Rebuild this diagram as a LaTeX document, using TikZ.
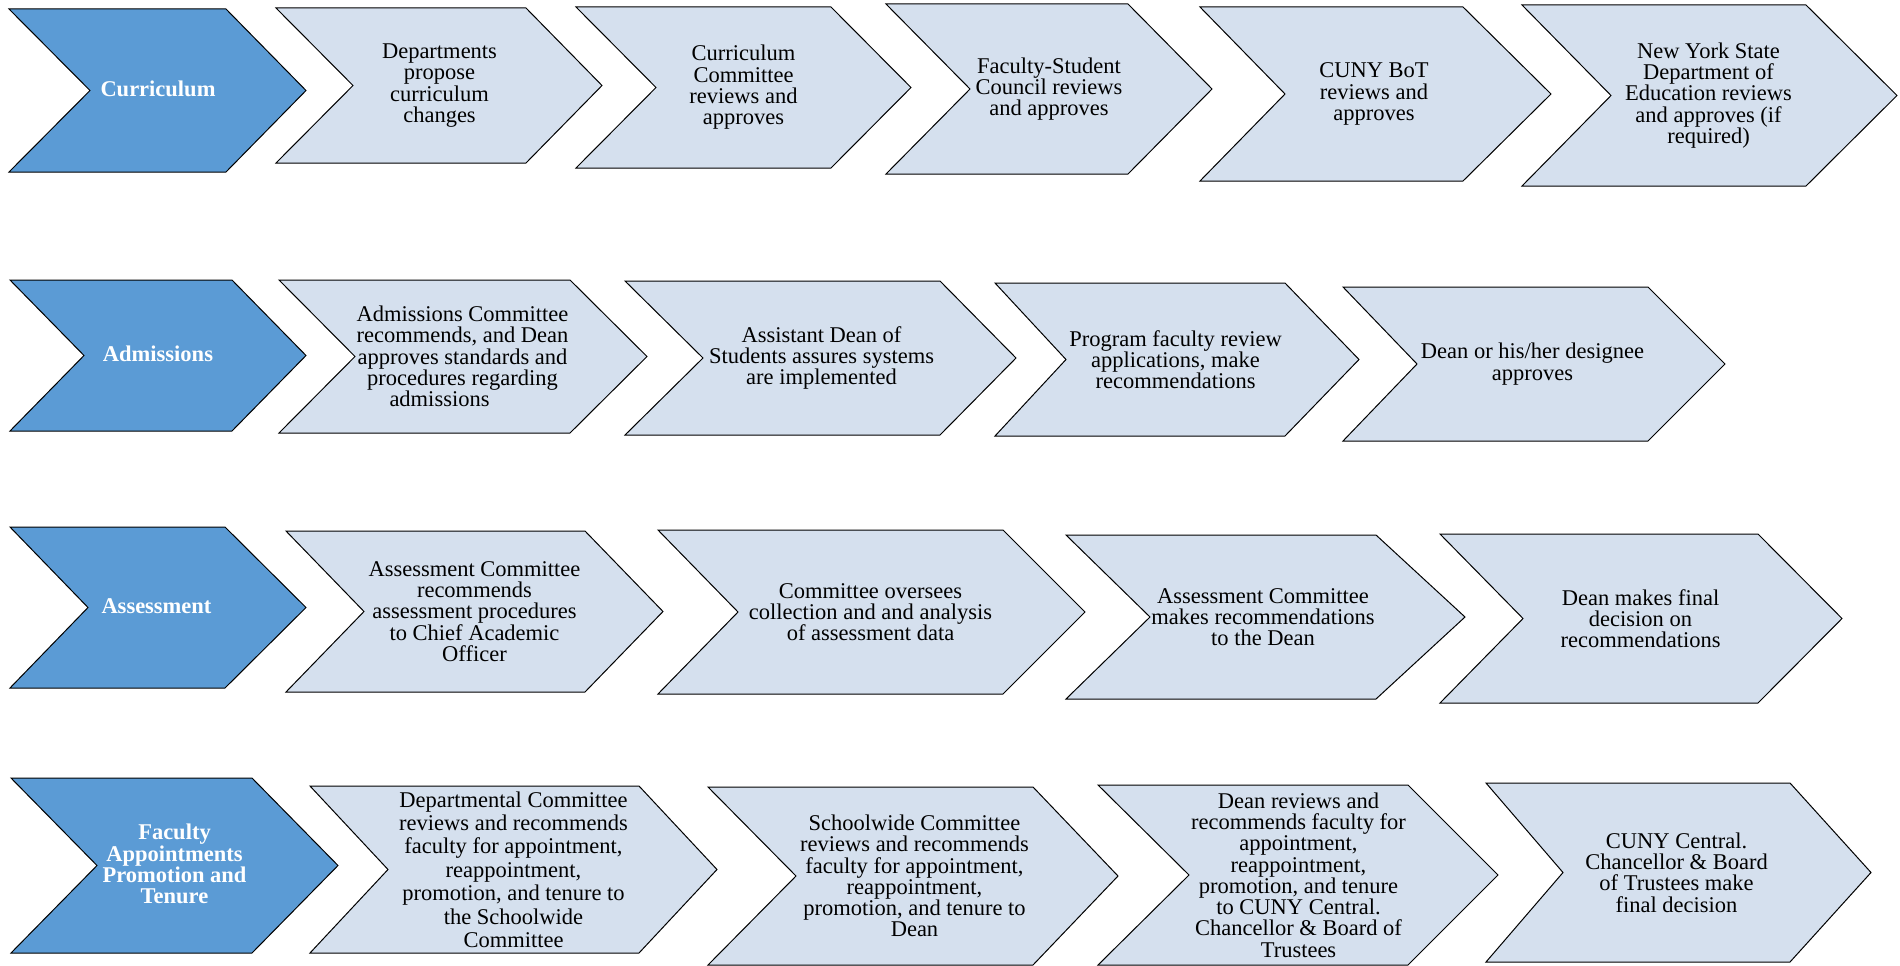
\documentclass[tikz,border=0pt]{standalone}
\usepackage{fontspec}
\setmainfont{Liberation Serif}
\definecolor{headblue}{HTML}{5B9BD5}
\definecolor{steplight}{HTML}{D5E0EE}
% one chevron: #1 name, #2 kind (head/step/stepwide), #3 left x, #4 top y, #5 bottom y,
% #6 notch x, #7 shoulder x, #8 tip x, #9 label
\newcommand{\chev}[9]{%
  \draw[chev#2] (#3,#4) -- (#7,#4) -- (#8,{(#4+#5)/2}) -- (#7,#5) -- (#3,#5)
    -- (#6,{(#4+#5)/2}) -- cycle;
  \node[#2text] (#1) at ({(#6+#7)/2},{(#4+#5)/2}) {#9};
}
\begin{document}
\begin{tikzpicture}[x=1pt,y=-1pt,
  chevhead/.style={fill=headblue, draw=black, line width=1pt},
  chevstep/.style={fill=steplight, draw=black, line width=1pt},
  chevstepwide/.style={chevstep},
  headtext/.style={text=white, font=\bfseries\fontsize{22.5}{21.3}\selectfont, align=center, inner sep=0pt, yshift=1.5pt},
  steptext/.style={text=black, font=\fontsize{22.5}{21.3}\selectfont, align=center, inner sep=0pt},
  stepwidetext/.style={steptext, font=\fontsize{22.5}{23.4}\selectfont}]
\useasboundingbox (0,0) rectangle (1900,966);

% Curriculum
\chev{c1}{head}{9}{9}{172}{90}{226}{306}{Curriculum}
\chev{c2}{step}{276}{8}{163}{353}{526}{602}{Departments\\propose\\curriculum\\changes}
\chev{c3}{step}{576}{7}{168}{656}{831}{911}{Curriculum\\Committee\\reviews and\\approves}
\chev{c4}{step}{886}{4}{174}{970}{1128}{1212}{Faculty-Student\\Council reviews\\and approves}
\chev{c5}{step}{1200}{7}{181}{1285}{1463}{1551}{CUNY BoT\\reviews and\\approves}
\chev{c6}{step}{1522}{5}{186}{1611}{1806}{1897}{New York State\\Department of\\Education reviews\\and approves (if\\required)}

% Admissions
\chev{a1}{head}{10}{280}{431}{84}{232}{306}{Admissions}
\chev{a2}{step}{279}{280}{433}{355}{570}{647}{Admissions Committee\\recommends, and Dean\\approves standards and\\procedures regarding\\admissions\hspace*{46pt}}
\chev{a3}{step}{625}{281}{435}{703}{940}{1016}{Assistant Dean of\\Students assures systems\\are implemented}
\chev{a4}{step}{995}{283}{436}{1066}{1285}{1359}{Program faculty review\\applications, make\\recommendations}
\chev{a5}{step}{1343}{287}{441}{1417}{1648}{1725}{Dean or his/her designee\\approves}

% Assessment
\chev{s1}{head}{10}{527}{688}{88}{225}{306}{Assessment}
\chev{s2}{step}{286}{531}{692}{364}{585}{663}{Assessment Committee\\recommends\\assessment procedures\\to Chief Academic\\Officer}
\chev{s3}{step}{658}{530}{694}{738}{1003}{1085}{Committee oversees\\collection and and analysis\\of assessment data}
\chev{s4}{step}{1066}{535}{699}{1150}{1376}{1465}{Assessment Committee\\makes recommendations\\to the Dean}
\chev{s5}{step}{1440}{534}{703}{1523}{1758}{1842}{Dean makes final\\decision on\\recommendations}

% Faculty appointments, promotion and tenure
\chev{f1}{head}{11}{778}{953}{97}{252}{338}{Faculty\\Appointments\\Promotion and\\Tenure}
\chev{f2}{stepwide}{310}{786}{953}{388}{639}{717}{Departmental Committee\\reviews and recommends\\faculty for appointment,\\reappointment,\\promotion, and tenure to\\the Schoolwide\\Committee}
\chev{f3}{step}{708}{787}{965}{796}{1033}{1118}{Schoolwide Committee\\reviews and recommends\\faculty for appointment,\\reappointment,\\promotion, and tenure to\\Dean}
\chev{f4}{step}{1098}{785}{965}{1189}{1408}{1498}{Dean reviews and\\recommends faculty for\\appointment,\\reappointment,\\promotion, and tenure\\to CUNY Central.\\Chancellor \& Board of\\Trustees}
\chev{f5}{step}{1486}{783}{962}{1563}{1790}{1871}{CUNY Central.\\Chancellor \& Board\\of Trustees make\\final decision}
\end{tikzpicture}
\end{document}
